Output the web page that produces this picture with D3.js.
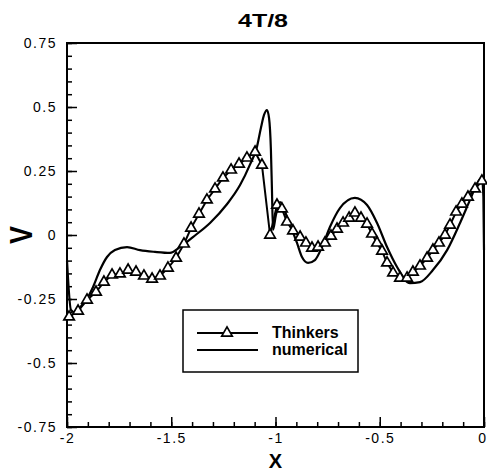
<!DOCTYPE html>
<html>
<head>
<meta charset="utf-8">
<script src="https://cdn.jsdelivr.net/npm/d3@7"></script>
<style>
  body { margin: 0; background: white; }
  .axis text { font-family: "Liberation Sans", Arial, sans-serif; font-size: 14px; letter-spacing: 1.5px; fill: black; }
  .axis line { stroke: black; stroke-width: 1.5; }
</style>
</head>
<body>
<div id="canvas-div"></div>
<script>
// Thinkers (triangles)
const thinkersX = [-1.990,-1.947,-1.904,-1.861,-1.823,-1.784,-1.746,-1.707,-1.669,-1.631,
    -1.592,-1.554,-1.516,-1.477,-1.439,-1.405,-1.367,-1.329,-1.290,-1.252,
    -1.213,-1.175,-1.137,-1.098,-1.065,-1.026,-0.993,-0.969,-0.945,-0.916,
    -0.882,-0.854,-0.825,-0.796,-0.763,-0.734,-0.705,-0.676,-0.647,-0.619,
    -0.590,-0.561,-0.537,-0.513,-0.489,-0.465,-0.436,-0.403,-0.369,-0.341,
    -0.307,-0.273,-0.245,-0.216,-0.187,-0.163,-0.134,-0.106,-0.077,-0.043,
    -0.010];
const thinkersV = [-0.320,-0.297,-0.254,-0.223,-0.184,-0.156,-0.152,-0.137,-0.145,-0.160,
    -0.172,-0.160,-0.129,-0.090,-0.035,0.027,0.082,0.137,0.180,0.223,
    0.254,0.277,0.301,0.324,0.273,0.000,0.117,0.102,0.051,0.016,
    -0.008,-0.031,-0.051,-0.047,-0.031,-0.004,0.023,0.047,0.066,0.086,
    0.066,0.043,0.004,-0.031,-0.063,-0.109,-0.148,-0.168,-0.168,-0.145,
    -0.121,-0.090,-0.059,-0.031,0.000,0.039,0.090,0.121,0.148,0.180,
    0.211];

// numerical (solid line)
const numX = [-2.000,-1.981,-1.957,-1.928,-1.899,-1.875,-1.842,-1.808,-1.770,-1.712,
    -1.650,-1.578,-1.506,-1.458,-1.396,-1.314,-1.233,-1.170,-1.122,-1.089,
    -1.070,-1.055,-1.041,-1.031,-1.022,-1.017,-1.012,-0.998,-0.978,-0.940,
    -0.897,-0.873,-0.844,-0.811,-0.777,-0.739,-0.691,-0.619,-0.561,-0.513,
    -0.465,-0.417,-0.355,-0.307,-0.245,-0.177,-0.115,-0.067,-0.029,-0.010,
    -0.003,0.000];
const numV = [-0.100,-0.293,-0.305,-0.273,-0.242,-0.203,-0.137,-0.086,-0.059,-0.047,
    -0.059,-0.066,-0.070,-0.047,-0.008,0.047,0.120,0.195,0.276,0.344,
    0.418,0.469,0.488,0.457,0.332,0.176,0.020,0.078,0.129,0.059,
    -0.031,-0.086,-0.109,-0.098,-0.047,0.031,0.105,0.145,0.117,0.047,
    -0.047,-0.125,-0.188,-0.184,-0.137,-0.059,0.047,0.137,0.207,0.223,
    0.150,-0.060];

const xTicks = [-2, -1.5, -1, -0.5, 0];
const xTickLabels = ["-2", "-1.5", "-1", "-0.5", "0"];
const yTicks = [-0.75, -0.5, -0.25, 0, 0.25, 0.5, 0.75];
const yTickLabels = ["-0.75", "-0.5", "-0.25", "0", "0.25", "0.5", "0.75"];
const seriesNames = ["Thinkers", "numerical"];

const width = 487, height = 471;
const padding = { left: 67, right: 3, top: 43, bottom: 44 };

const svg = d3.select("#canvas-div")
    .append("svg")
    .attr("width", width)
    .attr("height", height)
    .style("background-color", "white");

const xScale = d3.scaleLinear()
    .domain([-2, 0])
    .range([padding.left, width - padding.right]);
const yScale = d3.scaleLinear()
    .domain([-0.75, 0.75])
    .range([height - padding.bottom, padding.top]);

//minor ticks
const xMinor = d3.range(-20, 1).map(d => d / 10);
const yMinor = d3.range(-15, 16).map(d => d / 20);

svg.append("g")
    .attr("class", "axis")
    .attr("transform", "translate(0," + yScale(-0.75) + ")")
    .call(d3.axisBottom(xScale).tickValues(xMinor).tickSize(-5).tickFormat(""))
    .call(g => g.select(".domain").remove());
svg.append("g")
    .attr("class", "axis")
    .attr("transform", "translate(" + xScale(-2) + ",0)")
    .call(d3.axisLeft(yScale).tickValues(yMinor).tickSize(-5).tickFormat(""))
    .call(g => g.select(".domain").remove());

//major ticks + labels
svg.append("g")
    .attr("class", "axis")
    .attr("transform", "translate(0," + yScale(-0.75) + ")")
    .call(d3.axisBottom(xScale).tickValues(xTicks).tickSize(-10).tickPadding(6)
        .tickFormat((d, i) => xTickLabels[i]))
    .call(g => g.select(".domain").remove())
    .call(g => g.selectAll("line").attr("stroke-width", 2))
    .call(g => g.selectAll("text").filter(d => d === 0)
        .attr("text-anchor", "end").attr("dx", 3));
svg.append("g")
    .attr("class", "axis")
    .attr("transform", "translate(" + xScale(-2) + ",0)")
    .call(d3.axisLeft(yScale).tickValues(yTicks).tickSize(-10).tickPadding(10)
        .tickFormat((d, i) => yTickLabels[i]))
    .call(g => g.select(".domain").remove())
    .call(g => g.selectAll("line").attr("stroke-width", 2));

//frame
svg.append("rect")
    .attr("x", xScale(-2))
    .attr("y", yScale(0.75))
    .attr("width", xScale(0) - xScale(-2))
    .attr("height", yScale(-0.75) - yScale(0.75))
    .attr("fill", "none")
    .attr("stroke", "black")
    .attr("stroke-width", 2);

//lines
const numData = numX.map((x, i) => ({ x: x, v: numV[i] }));
const thkData = thinkersX.map((x, i) => ({ x: x, v: thinkersV[i] }));

const numLine = d3.line()
    .x(d => xScale(d.x))
    .y(d => yScale(d.v))
    .curve(d3.curveMonotoneX);
const thkLine = d3.line()
    .x(d => xScale(d.x))
    .y(d => yScale(d.v));

svg.append("path")
    .datum(numData)
    .attr("d", numLine)
    .attr("fill", "none")
    .attr("stroke", "black")
    .attr("stroke-width", 2.2);

svg.append("path")
    .datum(thkData)
    .attr("d", thkLine)
    .attr("fill", "none")
    .attr("stroke", "black")
    .attr("stroke-width", 2);

const tri = d3.symbol().type(d3.symbolTriangle).size(48);
svg.selectAll(".thinkers-point")
    .data(thkData)
    .enter()
    .append("path")
    .attr("class", "thinkers-point")
    .attr("d", tri)
    .attr("transform", d => "translate(" + xScale(d.x) + "," + yScale(d.v) + ")")
    .attr("fill", "white")
    .attr("stroke", "black")
    .attr("stroke-width", 1.7);

//titles
svg.append("text")
    .attr("x", 263)
    .attr("y", 27)
    .attr("text-anchor", "middle")
    .attr("font-family", "Liberation Sans, Arial, sans-serif")
    .attr("font-weight", "bold")
    .attr("font-size", 19)
    .attr("textLength", 50)
    .attr("lengthAdjust", "spacingAndGlyphs")
    .text("4T/8");

svg.append("text")
    .attr("x", (xScale(-2) + xScale(0)) / 2)
    .attr("y", 468)
    .attr("text-anchor", "middle")
    .attr("font-family", "Liberation Sans, Arial, sans-serif")
    .attr("font-weight", "bold")
    .attr("font-size", 20)
    .text("X");

svg.append("text")
    .attr("transform", "translate(32," + yScale(0) + ") rotate(-90)")
    .attr("text-anchor", "middle")
    .attr("font-family", "Liberation Sans, Arial, sans-serif")
    .attr("font-weight", "bold")
    .attr("font-size", 32)
    .attr("textLength", 18)
    .attr("lengthAdjust", "spacingAndGlyphs")
    .text("V");

//legend
const legend = svg.append("g").attr("class", "legend");
legend.append("rect")
    .attr("x", 183)
    .attr("y", 310)
    .attr("width", 175)
    .attr("height", 62)
    .attr("fill", "white")
    .attr("stroke", "black")
    .attr("stroke-width", 1.5);

seriesNames.forEach((name, i) => {
    const ly = 333 + i * 17;
    legend.append("line")
        .attr("x1", 197).attr("x2", 258)
        .attr("y1", ly).attr("y2", ly)
        .attr("stroke", "black")
        .attr("stroke-width", 2);
    if (i === 0) {
        legend.append("path")
            .attr("d", tri)
            .attr("transform", "translate(227," + ly + ")")
            .attr("fill", "white")
            .attr("stroke", "black")
            .attr("stroke-width", 1.7);
    }
    legend.append("text")
        .attr("x", 272)
        .attr("y", ly + 5)
        .attr("font-family", "Liberation Sans, Arial, sans-serif")
        .attr("font-weight", "bold")
        .attr("font-size", 16)
        .text(name);
});
</script>
</body>
</html>
